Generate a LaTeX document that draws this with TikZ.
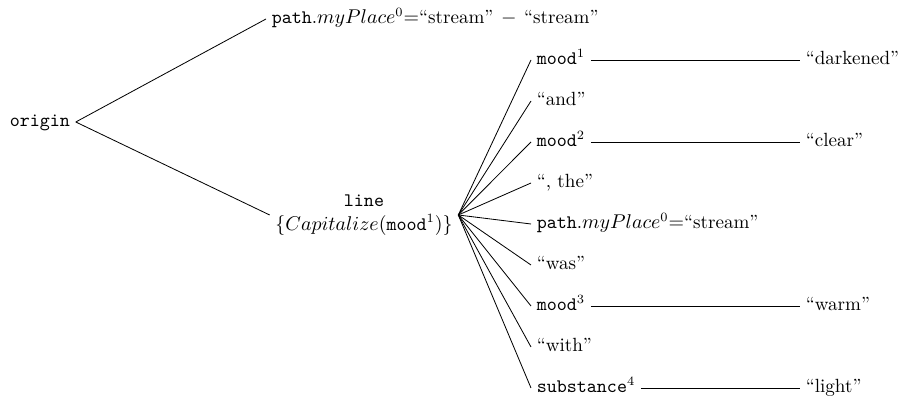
\documentclass[tikz,border=0pt]{standalone}
\usepackage{amsmath}
\usepackage{tikz}
\usetikzlibrary{positioning}

\newcommand{\qt}[1]{``#1''}

\begin{document}
\begin{tikzpicture}[
    x=0.55pt, y=-0.55pt,
    every node/.style={font=\fontsize{10.5}{13}\selectfont, inner sep=3pt},
    tnode/.style={anchor=west, text height=1.6ex, text depth=0.4ex},
    branch/.style={draw, line width=0.45pt},
]
\useasboundingbox (0,0) rectangle (904,403);

% ---------- root and first level ----------
\node[tnode] (origin) at (4,122) {\texttt{origin}};
\node[tnode] (place) at (266,19) {\texttt{path}.$myPlace^0{=}$\qt{stream}\,${}-{}$\,\qt{stream}};
\node[align=center] (line) at (364,215) {\texttt{line}\\$\{Capitalize(\texttt{mood}^1)\}$};

\draw[branch] (origin.east) -- (place.west);
\draw[branch] (origin.east) -- (line.west);

% ---------- parts of the line ----------
\node[tnode] (m1) at (531,60) {\texttt{mood}$^1$};
\node[tnode] (and) at (531,101) {\qt{and}};
\node[tnode] (m2) at (531,142) {\texttt{mood}$^2$};
\node[tnode] (the) at (531,183) {\qt{, the}};
\node[tnode] (p0) at (531,224) {\texttt{path}.$myPlace^0{=}$\qt{stream}};
\node[tnode] (was) at (531,265) {\qt{was}};
\node[tnode] (m3) at (531,306) {\texttt{mood}$^3$};
\node[tnode] (with) at (531,347) {\qt{with}};
\node[tnode] (sub) at (531,388) {\texttt{substance}$^4$};

\draw[branch] (line.east) -- (m1.west);
\draw[branch] (line.east) -- (and.west);
\draw[branch] (line.east) -- (m2.west);
\draw[branch] (line.east) -- (the.west);
\draw[branch] (line.east) -- (p0.west);
\draw[branch] (line.east) -- (was.west);
\draw[branch] (line.east) -- (m3.west);
\draw[branch] (line.east) -- (with.west);
\draw[branch] (line.east) -- (sub.west);

% ---------- values ----------
\node[tnode] (dark) at (800,60) {\qt{darkened}};
\node[tnode] (clear) at (800,142) {\qt{clear}};
\node[tnode] (warm) at (800,306) {\qt{warm}};
\node[tnode] (light) at (800,388) {\qt{light}};

\draw[branch] (m1.east) -- (dark.west);
\draw[branch] (m2.east) -- (clear.west);
\draw[branch] (m3.east) -- (warm.west);
\draw[branch] (sub.east) -- (light.west);

\end{tikzpicture}
\end{document}
